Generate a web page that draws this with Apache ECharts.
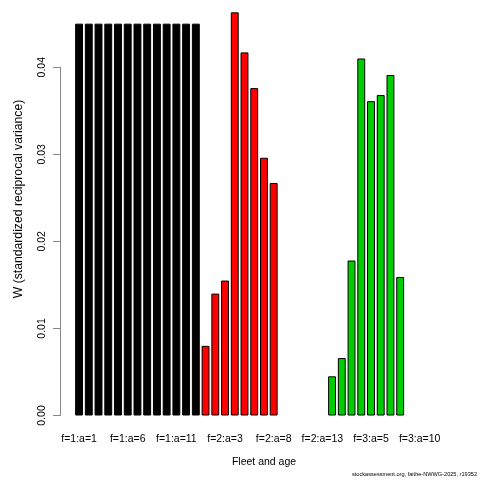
<!DOCTYPE html>
<html><head><meta charset="utf-8">
<script src="https://cdn.jsdelivr.net/npm/echarts@6/dist/echarts.min.js"></script>
<style>html,body{margin:0;background:#fff}#c{width:480px;height:480px}</style>
</head><body><div id="c"></div>
<script>
const categories = [
  'f=1:a=1','f=1:a=2','f=1:a=3','f=1:a=4','f=1:a=5','f=1:a=6','f=1:a=7','f=1:a=8','f=1:a=9','f=1:a=10','f=1:a=11','f=1:a=12','f=1:a=13',
  'f=2:a=1','f=2:a=2','f=2:a=3','f=2:a=4','f=2:a=5','f=2:a=6','f=2:a=7','f=2:a=8','f=2:a=9','f=2:a=10','f=2:a=11','f=2:a=12','f=2:a=13',
  'f=3:a=1','f=3:a=2','f=3:a=3','f=3:a=4','f=3:a=5','f=3:a=6','f=3:a=7','f=3:a=8','f=3:a=9','f=3:a=10','f=3:a=11','f=3:a=12','f=3:a=13'
];
const fleet1W = [0.045,0.045,0.045,0.045,0.045,0.045,0.045,0.045,0.045,0.045,0.045,0.045,0.045];
const fleet2W = [0.0080,0.0140,0.0155,0.0463,0.0417,0.0376,0.0296,0.0267,null,null,null,null,null];
const fleet3W = [0.0045,0.0066,0.0178,0.0410,0.0361,0.0368,0.0391,0.0159,null,null,null,null,null];
const yTicks = [0, 0.01, 0.02, 0.03, 0.04];

const pad = (arr, offset) => categories.map((c, i) => (i >= offset && i < offset + arr.length) ? arr[i - offset] : null);
const s1 = pad(fleet1W, 0), s2 = pad(fleet2W, 13), s3 = pad(fleet3W, 26);

const FONT = "'Liberation Sans', Arial, Helvetica, sans-serif";
const chart = echarts.init(document.getElementById('c'), null, {renderer: 'canvas'});
const barCommon = {type: 'bar', xAxisIndex: 0, yAxisIndex: 0, barWidth: 7.9, barGap: '-100%', animation: false};
chart.setOption({
  animation: false,
  backgroundColor: '#fff',
  grid: [
    {left: 74.2, width: 379.5, top: 1.9, bottom: 64.5},
    {left: 60, width: 1, top: 67.2, bottom: 64.5}
  ],
  xAxis: [
    {type: 'category', gridIndex: 0, data: categories, boundaryGap: true,
     axisLine: {show: false}, axisTick: {show: false}, splitLine: {show: false},
     axisLabel: {interval: 4, fontSize: 10.5, color: '#000', fontFamily: FONT, margin: 18}},
    {type: 'value', gridIndex: 1, show: false}
  ],
  yAxis: [
    {type: 'value', gridIndex: 0, min: 0, max: 0.0475, show: false},
    {type: 'value', gridIndex: 1, min: yTicks[0], max: yTicks[yTicks.length - 1], interval: 0.01,
     axisLine: {show: true, lineStyle: {color: '#888', width: 1}},
     axisTick: {show: true, length: 7, lineStyle: {color: '#888', width: 1}},
     splitLine: {show: false},
     axisLabel: {rotate: 90, fontSize: 10.5, color: '#000', fontFamily: FONT, margin: 12,
       formatter: v => v.toFixed(2)}}
  ],
  series: [
    Object.assign({}, barCommon, {data: s1, itemStyle: {color: '#000', borderColor: '#000', borderWidth: 1}}),
    Object.assign({}, barCommon, {data: s2, itemStyle: {color: '#ff0000', borderColor: '#000', borderWidth: 1}}),
    Object.assign({}, barCommon, {data: s3, itemStyle: {color: '#00cd00', borderColor: '#000', borderWidth: 1}})
  ],
  graphic: [
    {type: 'text', x: 264, y: 462, style: {text: 'Fleet and age', fontSize: 10.5, fontFamily: FONT, fill: '#000', align: 'center', verticalAlign: 'middle'}},
    {type: 'text', x: 19, y: 199, rotation: Math.PI / 2, style: {text: 'W (standardized reciprocal variance)', fontSize: 12.2, fontFamily: FONT, fill: '#000', align: 'center', verticalAlign: 'middle'}},
    {type: 'text', x: 477, y: 474, style: {text: 'stockassessment.org, faithe-NWWG-2025, r19352', fontSize: 5.6, fontFamily: FONT, fill: '#000', align: 'right', verticalAlign: 'middle'}}
  ]
});
</script></body></html>
